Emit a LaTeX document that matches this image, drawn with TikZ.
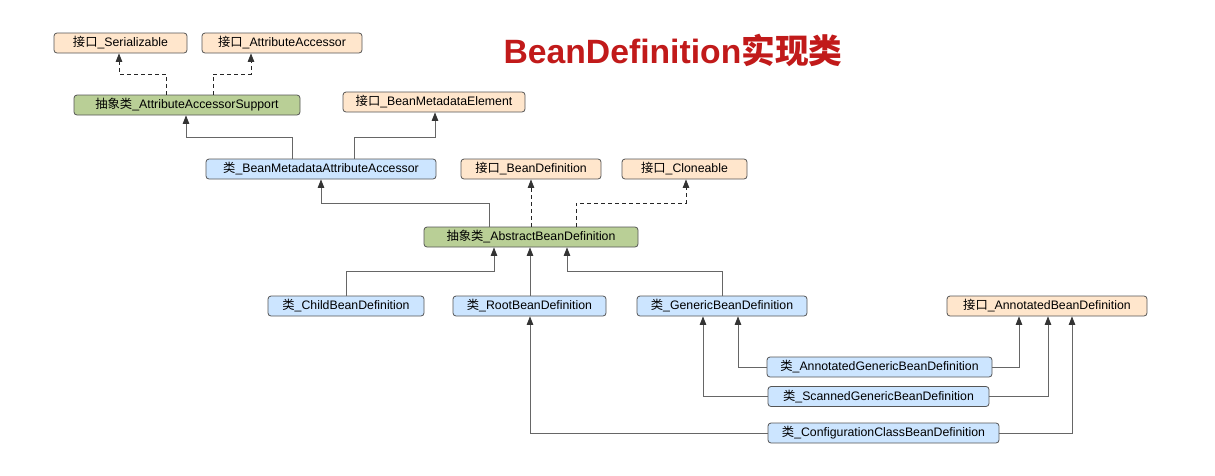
\documentclass[tikz,border=0pt]{standalone}
\usepackage{fontspec}
\setmainfont{Liberation Sans}
\newfontfamily\cjk{Noto Sans CJK SC}
\usetikzlibrary{arrows.meta}
\newcommand{\cn}[1]{{\cjk #1}}
\definecolor{ifill}{HTML}{FFE6CC}
\definecolor{gfill}{HTML}{B9CF96}
\definecolor{bfill}{HTML}{CCE5FF}
\definecolor{bord}{HTML}{555555}
\definecolor{titlered}{HTML}{C11A1A}
\definecolor{tipc}{HTML}{333333}
\begin{document}
\begin{tikzpicture}[x=1pt,y=-1pt,
  box/.style={draw=bord,line width=0.8pt,rounded corners=3pt,minimum height=20pt,inner sep=0pt,font=\fontsize{12.3}{14}\selectfont},
  iface/.style={box,fill=ifill},
  abst/.style={box,fill=gfill},
  cls/.style={box,fill=bfill},
  tip/.style={-{Triangle[length=8.5pt,width=6.5pt,color=tipc]}},
  inh/.style={tip,draw=black!60,line width=0.9pt},
  dep/.style={tip,draw=black!85,line width=0.8pt,dash pattern=on 4pt off 3pt}]
\useasboundingbox (0,0) rectangle (1215,475);
\node[font=\bfseries\fontsize{33.7}{36}\selectfont,text=titlered] (title) at (673,50) {BeanDefinition{\cjk\bfseries 实现类}};

\node[iface,minimum width=133pt] (ser) at (120.5,43) {\cn{接口}\_Serializable};
\node[iface,minimum width=160pt] (aa) at (282,43) {\cn{接口}\_AttributeAccessor};
\node[abst,minimum width=226pt] (aas) at (187,105) {\cn{抽象类}\_AttributeAccessorSupport};
\node[iface,minimum width=182pt] (bme) at (434,102) {\cn{接口}\_BeanMetadataElement};
\node[cls,minimum width=230pt] (bmaa) at (321,169) {\cn{类}\_BeanMetadataAttributeAccessor};
\node[iface,minimum width=140pt] (bd) at (531,169) {\cn{接口}\_BeanDefinition};
\node[iface,minimum width=125pt] (clo) at (684.5,169) {\cn{接口}\_Cloneable};
\node[abst,minimum width=214pt] (abd) at (531,237) {\cn{抽象类}\_AbstractBeanDefinition};
\node[cls,minimum width=156pt] (child) at (346,306) {\cn{类}\_ChildBeanDefinition};
\node[cls,minimum width=153pt] (root) at (529.5,306) {\cn{类}\_RootBeanDefinition};
\node[cls,minimum width=170pt] (gen) at (722,306) {\cn{类}\_GenericBeanDefinition};
\node[iface,minimum width=200pt] (anbd) at (1047,306) {\cn{接口}\_AnnotatedBeanDefinition};
\node[cls,minimum width=225pt] (agbd) at (879.5,367) {\cn{类}\_AnnotatedGenericBeanDefinition};
\node[cls,minimum width=221pt] (sgbd) at (878.5,396.5) {\cn{类}\_ScannedGenericBeanDefinition};
\node[cls,minimum width=231pt] (ccbd) at (883.5,433) {\cn{类}\_ConfigurationClassBeanDefinition};

% AttributeAccessorSupport
\draw[dep] (aas.north -| 166,0) -- (166,74) -- (119,74) -- (ser.south -| 119,0);
\draw[dep] (aas.north -| 213,0) -- (213,74) -- (251,74) -- (aa.south -| 251,0);
% BeanMetadataAttributeAccessor
\draw[inh] (bmaa.north -| 292,0) -- (292,137) -- (186,137) -- (aas.south -| 186,0);
\draw[inh] (bmaa.north -| 354,0) -- (354,137) -- (435,137) -- (bme.south -| 435,0);
% AbstractBeanDefinition
\draw[inh] (abd.north -| 489,0) -- (489,203) -- (321,203) -- (bmaa.south -| 321,0);
\draw[dep] (abd.north) -- (bd.south);
\draw[dep] (abd.north -| 576,0) -- (576,203) -- (686,203) -- (clo.south -| 686,0);
% children of AbstractBeanDefinition
\draw[inh] (child.north) -- (346,271) -- (494,271) -- (abd.south -| 494,0);
\draw[inh] (root.north -| 530,0) -- (abd.south -| 530,0);
\draw[inh] (gen.north) -- (722,271) -- (567,271) -- (abd.south -| 567,0);
% Generic subclasses
\draw[inh] (agbd.west) -- (738,367) -- (gen.south -| 738,0);
\draw[inh] (agbd.east) -- (1019,367) -- (anbd.south -| 1019,0);
\draw[inh] (sgbd.west) -- (703,396.5) -- (gen.south -| 703,0);
\draw[inh] (sgbd.east) -- (1048,396.5) -- (anbd.south -| 1048,0);
\draw[inh] (ccbd.west) -- (530,433) -- (root.south -| 530,0);
\draw[inh] (ccbd.east) -- (1072,433) -- (anbd.south -| 1072,0);
\end{tikzpicture}
\end{document}
